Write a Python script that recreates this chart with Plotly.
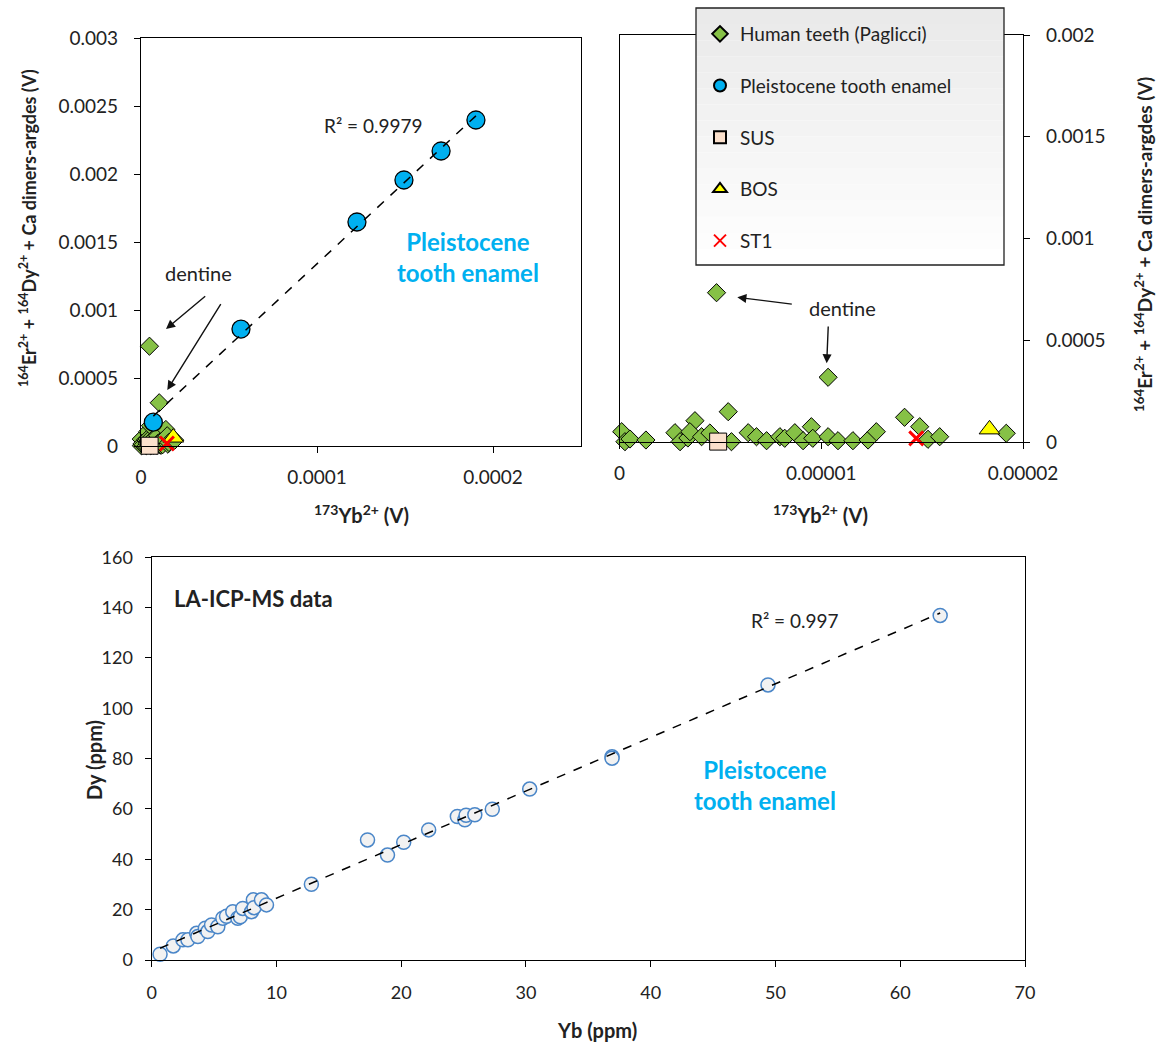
import numpy as np
import plotly.graph_objects as go

W, H = 1161, 1051
FONT = "Lato"

# ---------------- data ----------------
# Human teeth (Paglicci): 173Yb2+ (V) vs 164Er2+ + 164Dy2+ + Ca dimers-argides (V)
human_x = [0.11e-6, 0.27e-6, 0.52e-6, 1.31e-6, 2.75e-6, 3.00e-6, 3.39e-6, 3.74e-6, 3.49e-6,
           4.07e-6, 4.48e-6, 5.39e-6, 5.55e-6, 6.38e-6, 6.79e-6, 7.29e-6, 7.95e-6, 8.19e-6,
           8.69e-6, 9.10e-6, 9.51e-6, 9.58e-6, 10.34e-6, 10.83e-6, 11.57e-6, 12.32e-6,
           12.73e-6, 14.13e-6, 14.88e-6, 15.29e-6, 15.87e-6, 19.17e-6, 4.81e-6, 10.34e-6]
human_y = [50.6e-6, 1.5e-6, 14.7e-6, 9.8e-6, 45.7e-6, 1.5e-6, 19.7e-6, 104.7e-6, 50.6e-6,
           26.0e-6, 44.2e-6, 148.9e-6, 1.5e-6, 45.7e-6, 26.0e-6, 6.4e-6, 26.0e-6, 18.2e-6,
           45.7e-6, 6.4e-6, 75.2e-6, 18.2e-6, 26.0e-6, 6.4e-6, 6.4e-6, 9.8e-6,
           50.6e-6, 121.4e-6, 75.2e-6, 13.3e-6, 26.0e-6, 42.8e-6, 733.7e-6, 318.0e-6]

# Pleistocene tooth enamel
enamel_x = [7.0e-6, 56.8e-6, 122.7e-6, 149.4e-6, 170.5e-6, 190.3e-6]
enamel_y = [175e-6, 860e-6, 1647e-6, 1956e-6, 2169e-6, 2397e-6]

sus_x, sus_y = [4.89e-6], [2e-6]
bos_x, bos_y = [18.34e-6], [62e-6]
st1_x, st1_y = [14.71e-6], [18e-6]

# LA-ICP-MS data (ppm)
yb_ppm = [0.67, 1.73, 2.5, 2.9, 3.6, 3.7, 4.3, 4.5, 4.8, 5.3, 5.7, 6.0, 6.5, 6.9, 7.1, 7.3,
          8.0, 8.15, 8.2, 8.8, 9.2, 12.8, 17.3, 18.9, 20.2, 22.2, 24.5, 25.1, 25.2, 25.9,
          27.3, 30.3, 36.9, 36.9, 49.4, 63.2]
dy_ppm = [2.3, 5.6, 8.0, 8.0, 10.6, 9.3, 12.6, 11.3, 13.9, 13.2, 16.6, 17.4, 19.2, 16.6,
          17.2, 20.5, 19.2, 23.9, 20.8, 23.9, 21.9, 30.1, 47.7, 41.7, 46.8, 51.7, 57.0,
          55.7, 57.5, 57.7, 59.9, 67.9, 80.8, 80.2, 109.3, 136.9]

# tick labels
tl_x_tick = [0, 0.0001, 0.0002]
tl_x_text = ["0", "0.0001", "0.0002"]
tl_y_tick = [0, 0.0005, 0.001, 0.0015, 0.002, 0.0025, 0.003]
tl_y_text = ["0", "0.0005", "0.001", "0.0015", "0.002", "0.0025", "0.003"]
tr_x_tick = [0, 0.00001, 0.00002]
tr_x_text = ["0", "0.00001", "0.00002"]
tr_y_tick = [0, 0.0005, 0.001, 0.0015, 0.002]
tr_y_text = ["0", "0.0005", "0.001", "0.0015", "0.002"]

# ---------------- styles ----------------
GREEN = "#86C146"
BLUE = "#00B0F0"
PEACH = "#FBE0CC"
YELLOW = "#FFFF00"
RED = "#FF0000"

def px(x):
    return x / W

def py(y):
    return 1 - y / H

fig = go.Figure()

def add_group(xa, ya, show, right=False):
    hx, hy = np.array(human_x), np.array(human_y)
    if right:
        m = hx <= 0.00002
        hx, hy = hx[m], hy[m]
    fig.add_trace(go.Scatter(
        x=hx, y=hy, mode="markers", name="Human teeth (Paglicci)",
        legendgroup="g1", showlegend=show, cliponaxis=False,
        marker=dict(symbol="diamond", size=14, color=GREEN, line=dict(color="black", width=1)),
        xaxis=xa, yaxis=ya))
    if not right:
        fig.add_trace(go.Scatter(
            x=enamel_x, y=enamel_y, mode="markers", name="Pleistocene tooth enamel",
            legendgroup="g2", showlegend=show, cliponaxis=False,
            marker=dict(symbol="circle", size=18, color=BLUE, line=dict(color="black", width=1.3)),
            xaxis=xa, yaxis=ya))
    fig.add_trace(go.Scatter(
        x=sus_x, y=sus_y, mode="markers", name="SUS",
        legendgroup="g3", showlegend=show, cliponaxis=False,
        marker=dict(symbol="square", size=17, color=PEACH, line=dict(color="black", width=1)),
        xaxis=xa, yaxis=ya))
    fig.add_trace(go.Scatter(
        x=bos_x, y=bos_y, mode="markers", name="BOS",
        legendgroup="g4", showlegend=show, cliponaxis=False,
        marker=dict(symbol="triangle-up", size=18, color=YELLOW, line=dict(color="black", width=1)),
        xaxis=xa, yaxis=ya))
    fig.add_trace(go.Scatter(
        x=st1_x, y=st1_y, mode="markers", name="ST1",
        legendgroup="g5", showlegend=show, cliponaxis=False,
        marker=dict(symbol="x-thin", size=14, color=RED, line=dict(color=RED, width=3)),
        xaxis=xa, yaxis=ya))

add_group("x", "y", True)
add_group("x2", "y2", False, right=True)

# trendline enamel (top-left)
ex = np.array(enamel_x); ey = np.array(enamel_y)
k, b = np.polyfit(ex, ey, 1)
lx = np.array([ex.min(), ex.max()])
fig.add_trace(go.Scatter(x=lx, y=k * lx + b, mode="lines", showlegend=False,
                         line=dict(color="black", width=1.5, dash="dash"),
                         xaxis="x", yaxis="y", hoverinfo="skip"))

# bottom data
fig.add_trace(go.Scatter(x=yb_ppm, y=dy_ppm, mode="markers", showlegend=False, cliponaxis=False,
                         marker=dict(symbol="circle", size=14, color="#F2F2F2",
                                     line=dict(color="#4A86C8", width=1.5)),
                         xaxis="x3", yaxis="y3"))
bx = np.array(yb_ppm); by = np.array(dy_ppm)
k2, b2 = np.polyfit(bx, by, 1)
lx2 = np.array([bx.min(), bx.max()])
fig.add_trace(go.Scatter(x=lx2, y=k2 * lx2 + b2, mode="lines", showlegend=False,
                         line=dict(color="black", width=1.5, dash="dash"),
                         xaxis="x3", yaxis="y3", hoverinfo="skip"))

axis_common = dict(showline=True, linecolor="#000", linewidth=1.3, mirror=True,
                   ticks="outside", ticklen=6, tickcolor="#000", tickwidth=1.3,
                   showgrid=False, zeroline=False, automargin=False,
                   tickfont=dict(family=FONT, size=19, color="#222"))
axis_bottom = dict(axis_common, tickfont=dict(family=FONT, size=18, color="#222"))

fig.update_layout(
    width=W, height=H,
    margin=dict(l=0, r=0, t=0, b=0, autoexpand=False),
    paper_bgcolor="white", plot_bgcolor="white",
    font=dict(family=FONT, color="#222"),
    xaxis=dict(domain=[px(141), px(581)], anchor="y", range=[0, 0.00025],
               tickvals=tl_x_tick, ticktext=tl_x_text, ticklabelstandoff=8, **axis_common),
    yaxis=dict(domain=[py(446), py(38)], anchor="x", range=[0, 0.003],
               tickvals=tl_y_tick, ticktext=tl_y_text, ticklabelstandoff=12, **axis_common),
    xaxis2=dict(domain=[px(619.5), px(1023)], anchor="y2", range=[0, 0.00002],
                tickvals=tr_x_tick, ticktext=tr_x_text, ticklabelstandoff=8, **axis_common),
    yaxis2=dict(domain=[py(442), py(35)], anchor="x2", range=[0, 0.002], side="right",
                tickvals=tr_y_tick, ticktext=tr_y_text, ticklabelstandoff=12, **axis_common),
    xaxis3=dict(domain=[px(151.7), px(1025)], anchor="y3", range=[0, 70], dtick=10,
                ticklabelstandoff=10, **axis_bottom),
    yaxis3=dict(domain=[py(960), py(557.3)], anchor="x3", range=[0, 160], dtick=20,
                ticklabelstandoff=8, **axis_bottom),
    legend=dict(x=px(700), y=py(15), xanchor="left", yanchor="top",
                bgcolor="rgba(0,0,0,0)", borderwidth=0,
                font=dict(family=FONT, size=19, color="#222"),
                tracegroupgap=24, itemsizing="constant"),
)

# legend box with vertical gradient
x0, x1, y0, y1 = 696, 1004, 8, 265
nb = 16
for i in range(nb):
    t = i / (nb - 1)
    g = int(234 + (255 - 234) * t)
    fig.add_shape(type="rect", xref="paper", yref="paper",
                  x0=px(x0), x1=px(x1),
                  y0=py(y0 + (y1 - y0) * (i + 1) / nb), y1=py(y0 + (y1 - y0) * i / nb),
                  fillcolor=f"rgb({g},{g},{g})", line=dict(width=0), layer="above")
fig.add_shape(type="rect", xref="paper", yref="paper", x0=px(x0), x1=px(x1), y0=py(y1), y1=py(y0),
              line=dict(color="#222", width=1.3), fillcolor="rgba(0,0,0,0)", layer="above")

ann = []
def text(xp, yp, s, size=19, bold=False, color="#222", angle=0, xanchor="center"):
    ann.append(dict(x=px(xp), y=py(yp), xref="paper", yref="paper", text=(f"<b>{s}</b>" if bold else s),
                    showarrow=False, textangle=angle, xanchor=xanchor, yanchor="middle",
                    font=dict(family=FONT, size=size, color=color)))

def arrow(hx, hy, tx, ty):
    ann.append(dict(x=px(hx), y=py(hy), xref="paper", yref="paper", text="",
                    showarrow=True, arrowhead=2, arrowsize=1.3, arrowwidth=1.4, arrowcolor="#111",
                    ax=tx - hx, ay=ty - hy))

ytitle = "<sup>164</sup>Er<sup>2+</sup> + <sup>164</sup>Dy<sup>2+</sup> + Ca dimers-argdes (V)"
xtitle = "<sup>173</sup>Yb<sup>2+</sup> (V)"

# top-left
text(373, 125, "R² = 0.9979", 19)
text(468, 257, "Pleistocene<br>tooth enamel", 24, bold=True, color=BLUE)
text(198, 273, "dentine", 20)
arrow(166, 329, 206.7, 295)
arrow(167.3, 390, 221.7, 302.7)
text(28, 228, ytitle, 18, bold=True, angle=-90)
text(361, 514, xtitle, 20, bold=True)
# top-right
text(842, 308, "dentine", 20)
arrow(737.3, 297.3, 793.3, 304.3)
arrow(826.7, 363.3, 828.3, 325)
text(1144, 245, ytitle, 19, bold=True, angle=-90)
text(820, 514, xtitle, 20, bold=True)
# bottom
text(171.7, 598, "LA-ICP-MS data", 22, bold=True, xanchor="left")
text(795, 620, "R² = 0.997", 19)
text(765, 785, "Pleistocene<br>tooth enamel", 24, bold=True, color=BLUE)
text(597, 1030, "Yb (ppm)", 20, bold=True)
text(94, 760, "Dy (ppm)", 20, bold=True, angle=-90)

fig.update_layout(annotations=ann)
fig.write_html("out.html", config={"displayModeBar": False},
               post_script="document.body.style.margin='0';")
